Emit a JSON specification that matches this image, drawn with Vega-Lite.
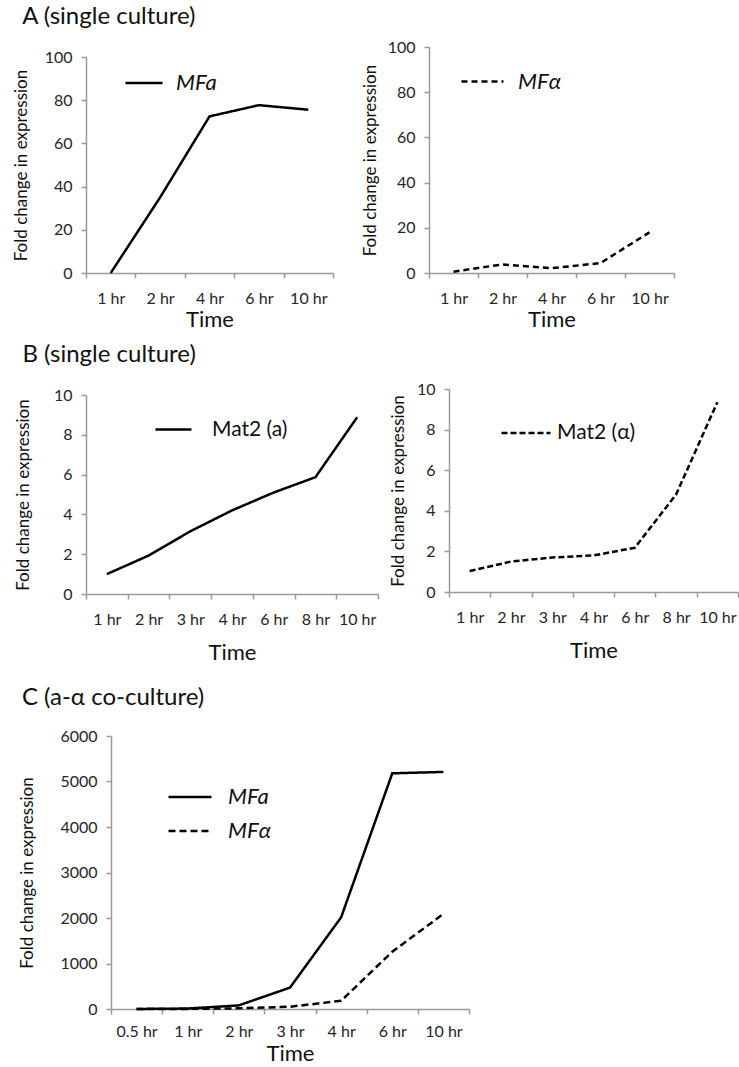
{
  "$schema": "https://vega.github.io/schema/vega-lite/v6.json",
  "background": "white",
  "padding": {"left": 12, "top": 5, "right": 0, "bottom": 0},
  "datasets": {
    "a1": [
      {"time": "1 hr", "value": 0, "series": "MFa"},
      {"time": "2 hr", "value": 35, "series": "MFa"},
      {"time": "4 hr", "value": 72.5, "series": "MFa"},
      {"time": "6 hr", "value": 77.7, "series": "MFa"},
      {"time": "10 hr", "value": 75.6, "series": "MFa"}
    ],
    "a2": [
      {"time": "1 hr", "value": 0.6, "series": "MFα"},
      {"time": "2 hr", "value": 3.8, "series": "MFα"},
      {"time": "4 hr", "value": 2.1, "series": "MFα"},
      {"time": "6 hr", "value": 4.4, "series": "MFα"},
      {"time": "10 hr", "value": 18, "series": "MFα"}
    ],
    "b1": [
      {"time": "1 hr", "value": 1.0, "series": "Mat2 (a)"},
      {"time": "2 hr", "value": 1.93, "series": "Mat2 (a)"},
      {"time": "3 hr", "value": 3.15, "series": "Mat2 (a)"},
      {"time": "4 hr", "value": 4.2, "series": "Mat2 (a)"},
      {"time": "6 hr", "value": 5.1, "series": "Mat2 (a)"},
      {"time": "8 hr", "value": 5.87, "series": "Mat2 (a)"},
      {"time": "10 hr", "value": 8.88, "series": "Mat2 (a)"}
    ],
    "b2": [
      {"time": "1 hr", "value": 1.03, "series": "Mat2 (α)"},
      {"time": "2 hr", "value": 1.5, "series": "Mat2 (α)"},
      {"time": "3 hr", "value": 1.7, "series": "Mat2 (α)"},
      {"time": "4 hr", "value": 1.8, "series": "Mat2 (α)"},
      {"time": "6 hr", "value": 2.18, "series": "Mat2 (α)"},
      {"time": "8 hr", "value": 4.8, "series": "Mat2 (α)"},
      {"time": "10 hr", "value": 9.35, "series": "Mat2 (α)"}
    ],
    "c": [
      {"time": "0.5 hr", "value": 1, "series": "MFa"},
      {"time": "1 hr", "value": 10, "series": "MFa"},
      {"time": "2 hr", "value": 80, "series": "MFa"},
      {"time": "3 hr", "value": 470, "series": "MFa"},
      {"time": "4 hr", "value": 2015, "series": "MFa"},
      {"time": "6 hr", "value": 5180, "series": "MFa"},
      {"time": "10 hr", "value": 5210, "series": "MFa"},
      {"time": "0.5 hr", "value": 1, "series": "MFα"},
      {"time": "1 hr", "value": 2, "series": "MFα"},
      {"time": "2 hr", "value": 15, "series": "MFα"},
      {"time": "3 hr", "value": 50, "series": "MFα"},
      {"time": "4 hr", "value": 180, "series": "MFα"},
      {"time": "6 hr", "value": 1260, "series": "MFα"},
      {"time": "10 hr", "value": 2090, "series": "MFα"}
    ]
  },
  "config": {
    "font": "Lato",
    "view": {"stroke": null},
    "axis": {
      "grid": false,
      "domainColor": "#9a9a9a",
      "tickColor": "#9a9a9a",
      "domainWidth": 1.5,
      "tickWidth": 1.5,
      "tickSize": 5,
      "labelColor": "#262626",
      "labelFontSize": 16,
      "titleColor": "#111111",
      "titleFontWeight": "normal",
      "labelFont": "Lato"
    },
    "axisX": {"titleFontSize": 22, "labelAngle": 0, "tickBand": "extent", "labelPadding": 12, "titlePadding": 3},
    "axisY": {"titleFontSize": 17, "titlePadding": 14, "labelPadding": 9},
    "legend": {
      "symbolType": "stroke",
      "symbolStrokeColor": "black",
      "symbolStrokeWidth": 2.5,
      "labelFontSize": 22,
      "labelColor": "#111111"
    },
    "title": {"fontSize": 24, "fontWeight": "normal", "anchor": "start", "frame": "bounds", "color": "#111111"},
    "line": {"color": "black", "strokeWidth": 2.5}
  },
  "spacing": 13,
  "resolve": {"scale": {"strokeDash": "independent"}, "legend": {"strokeDash": "independent"}},
  "vconcat": [
    {
      "spacing": 27,
      "resolve": {"scale": {"strokeDash": "independent"}, "legend": {"strokeDash": "independent"}},
      "hconcat": [
        {
          "width": 247, "height": 226,
          "title": {"text": "A (single culture)", "offset": 18, "dx": 10},
          "data": {"name": "a1"},
          "mark": {"type": "line"},
          "encoding": {
            "x": {"field": "time", "type": "ordinal", "sort": null, "bandPosition": 0.5, "scale": {"type": "band", "paddingInner": 0, "paddingOuter": 0}, "axis": {"title": "Time"}},
            "y": {"field": "value", "type": "quantitative", "scale": {"domain": [0, 100], "range": [226, 10]}, "axis": {"values": [0, 20, 40, 60, 80, 100], "title": "Fold change in expression"}},
            "strokeDash": {"field": "series", "type": "nominal", "scale": {"range": [[1, 0]]}, "legend": {"orient": "none", "legendX": 38, "legendY": 16, "title": null, "labelFontStyle": "italic", "symbolSize": 1369, "labelOffset": 12}}
          }
        },
        {
          "width": 245, "height": 226,
          "data": {"name": "a2"},
          "mark": {"type": "line"},
          "encoding": {
            "x": {"field": "time", "type": "ordinal", "sort": null, "bandPosition": 0.5, "scale": {"type": "band", "paddingInner": 0, "paddingOuter": 0}, "axis": {"title": "Time"}},
            "y": {"field": "value", "type": "quantitative", "scale": {"domain": [0, 100]}, "axis": {"values": [0, 20, 40, 60, 80, 100], "title": "Fold change in expression", "titlePadding": 8}},
            "strokeDash": {"field": "series", "type": "nominal", "scale": {"range": [[6, 4]]}, "legend": {"orient": "none", "legendX": 31, "legendY": 12, "title": null, "labelFontStyle": "italic", "symbolSize": 1764, "labelOffset": 13}}
          }
        }
      ]
    },
    {
      "spacing": 10,
      "resolve": {"scale": {"strokeDash": "independent"}, "legend": {"strokeDash": "independent"}},
      "hconcat": [
        {
          "width": 292, "height": 205,
          "title": {"text": "B (single culture)", "offset": 20, "dx": 8},
          "data": {"name": "b1"},
          "mark": {"type": "line"},
          "encoding": {
            "x": {"field": "time", "type": "ordinal", "sort": null, "bandPosition": 0.5, "scale": {"type": "band", "paddingInner": 0, "paddingOuter": 0}, "axis": {"title": "Time", "titlePadding": 15}},
            "y": {"field": "value", "type": "quantitative", "scale": {"domain": [0, 10], "range": [205, 6]}, "axis": {"values": [0, 2, 4, 6, 8, 10], "title": "Fold change in expression", "titlePadding": 21}},
            "strokeDash": {"field": "series", "type": "nominal", "scale": {"range": [[1, 0]]}, "legend": {"orient": "none", "legendX": 68, "legendY": 21, "title": null, "symbolSize": 1296, "labelOffset": 19, "labelFontSize": 21}}
          }
        },
        {
          "width": 289, "height": 203,
          "data": {"name": "b2"},
          "mark": {"type": "line"},
          "encoding": {
            "x": {"field": "time", "type": "ordinal", "sort": null, "bandPosition": 0.5, "scale": {"type": "band", "paddingInner": 0, "paddingOuter": 0}, "axis": {"title": "Time", "titlePadding": 15}},
            "y": {"field": "value", "type": "quantitative", "scale": {"domain": [0, 10]}, "axis": {"values": [0, 2, 4, 6, 8, 10], "title": "Fold change in expression", "titlePadding": 9}},
            "strokeDash": {"field": "series", "type": "nominal", "scale": {"range": [[6, 3]]}, "legend": {"orient": "none", "legendX": 51, "legendY": 18, "title": null, "symbolSize": 2400, "labelOffset": 5, "labelFontSize": 21}}
          }
        }
      ]
    },
    {
      "width": 383, "height": 273,
      "title": {"text": ["", "C  (a-α co-culture)"], "lineHeight": 10, "offset": 18, "dx": 3},
      "data": {"name": "c"},
      "mark": {"type": "line"},
      "encoding": {
        "x": {"field": "time", "type": "ordinal", "sort": null, "bandPosition": 0.5, "scale": {"type": "band", "paddingInner": 0, "paddingOuter": 0, "range": [25, 383]}, "axis": {"title": "Time", "labelPadding": 9, "titlePadding": 4}},
        "y": {"field": "value", "type": "quantitative", "scale": {"domain": [0, 6000]}, "axis": {"values": [0, 1000, 2000, 3000, 4000, 5000, 6000], "format": "d", "title": "Fold change in expression", "titlePadding": 23, "offset": -25}},
        "strokeDash": {"field": "series", "type": "nominal", "sort": ["MFa", "MFα"], "scale": {"domain": ["MFa", "MFα"], "range": [[1, 0], [7, 4]]}, "legend": {"orient": "none", "legendX": 81, "legendY": 38, "title": null, "labelFontStyle": "italic", "symbolSize": 1850, "labelOffset": 15, "rowPadding": -22}}
      }
    }
  ]
}
